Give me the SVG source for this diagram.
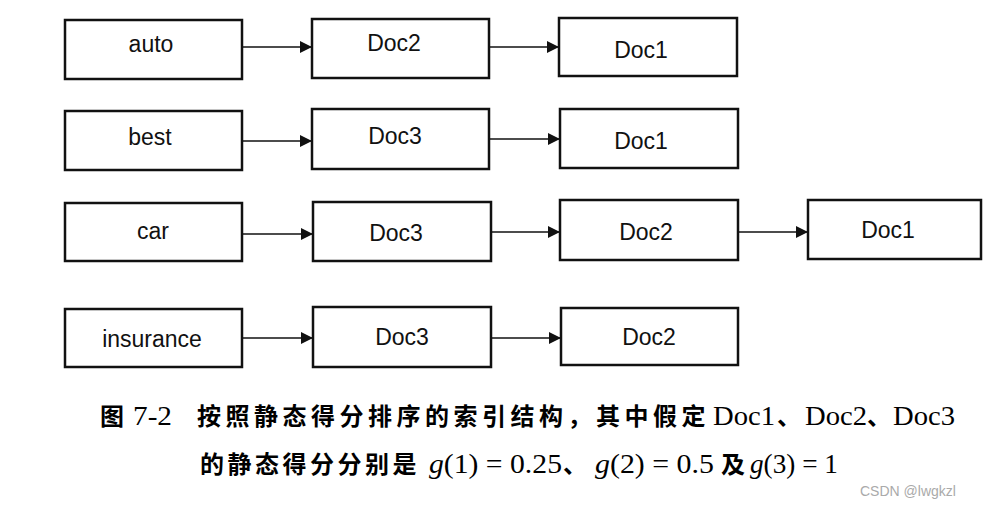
<svg xmlns="http://www.w3.org/2000/svg" width="995" height="510" viewBox="0 0 995 510">
<style>
.box{fill:#fff;stroke:#111;stroke-width:2.5}
.lbl{font-family:"Liberation Sans",Arial,sans-serif;font-size:23px;fill:#111;text-anchor:middle}
.edge{stroke:#111;stroke-width:1.6;fill:none;marker-end:url(#ah)}
.cj{font-family:"Noto Sans CJK SC","Noto Sans CJK JP",sans-serif;font-size:24px;font-weight:bold;fill:#000;letter-spacing:4.5px}
.tm{font-family:"Liberation Serif","Times New Roman",serif;font-size:28px;fill:#000}
.it{font-style:italic}
.wm{font-family:"Liberation Sans",Arial,sans-serif;font-size:14px;fill:#aaa}
</style>
<defs>
<marker id="ah" markerWidth="12" markerHeight="12" refX="12" refY="6" orient="auto" markerUnits="userSpaceOnUse">
<path d="M0,0 L12,6 L0,12 Z" fill="#111"/>
</marker>
</defs>
<rect width="995" height="510" fill="#fff"/>
<g id="connectors">
<line class="edge" x1="242" y1="47" x2="312" y2="47"/>
<line class="edge" x1="489" y1="47" x2="559" y2="47"/>
<line class="edge" x1="242" y1="141" x2="312" y2="141"/>
<line class="edge" x1="489" y1="139" x2="560" y2="139"/>
<line class="edge" x1="242" y1="234" x2="313" y2="234"/>
<line class="edge" x1="491" y1="232" x2="560" y2="232"/>
<line class="edge" x1="738" y1="232" x2="808" y2="232"/>
<line class="edge" x1="242" y1="338" x2="313" y2="338"/>
<line class="edge" x1="491" y1="338" x2="561" y2="338"/>
</g>
<g id="n-auto"><rect class="box" x="65" y="20" width="177" height="59"/><text class="lbl" x="151" y="52">auto</text></g>
<g id="n-auto-doc2"><rect class="box" x="312" y="19" width="177" height="59"/><text class="lbl" x="394" y="51">Doc2</text></g>
<g id="n-auto-doc1"><rect class="box" x="559" y="18" width="178" height="58"/><text class="lbl" x="641" y="58">Doc1</text></g>
<g id="n-best"><rect class="box" x="65" y="111" width="177" height="59"/><text class="lbl" x="150" y="145">best</text></g>
<g id="n-best-doc3"><rect class="box" x="312" y="109" width="177" height="60"/><text class="lbl" x="395" y="144">Doc3</text></g>
<g id="n-best-doc1"><rect class="box" x="560" y="109" width="178" height="59"/><text class="lbl" x="641" y="149">Doc1</text></g>
<g id="n-car"><rect class="box" x="65" y="203" width="177" height="58"/><text class="lbl" x="153" y="239">car</text></g>
<g id="n-car-doc3"><rect class="box" x="313" y="202" width="178" height="59"/><text class="lbl" x="396" y="241">Doc3</text></g>
<g id="n-car-doc2"><rect class="box" x="560" y="200" width="178" height="60"/><text class="lbl" x="646" y="240">Doc2</text></g>
<g id="n-car-doc1"><rect class="box" x="808" y="200" width="173" height="59"/><text class="lbl" x="888" y="238">Doc1</text></g>
<g id="n-insurance"><rect class="box" x="65" y="309" width="177" height="58"/><text class="lbl" x="152" y="347">insurance</text></g>
<g id="n-ins-doc3"><rect class="box" x="313" y="307" width="178" height="60"/><text class="lbl" x="402" y="345">Doc3</text></g>
<g id="n-ins-doc2"><rect class="box" x="561" y="308" width="177" height="57"/><text class="lbl" x="649" y="345">Doc2</text></g>
<g id="caption">
<text class="cj" x="100" y="425">图</text>
<text class="tm" x="133" y="425" textLength="39" lengthAdjust="spacingAndGlyphs">7-2</text>
<text class="cj" x="197" y="425">按照静态得分排序的索引结构，其中假定</text>
<text class="tm" x="713" y="425" textLength="62" lengthAdjust="spacingAndGlyphs">Doc1</text>
<text class="cj" x="777" y="425" style="letter-spacing:0">、</text>
<text class="tm" x="805" y="425" textLength="62" lengthAdjust="spacingAndGlyphs">Doc2</text>
<text class="cj" x="867" y="425" style="letter-spacing:0">、</text>
<text class="tm" x="893" y="425" textLength="62" lengthAdjust="spacingAndGlyphs">Doc3</text>
<text class="cj" x="200" y="473" style="letter-spacing:3.5px">的静态得分分别是</text>
<text class="tm" x="429" y="473" textLength="133" lengthAdjust="spacingAndGlyphs"><tspan class="it">g</tspan>(1) = 0.25</text>
<text class="cj" x="563" y="473" style="letter-spacing:0">、</text>
<text class="tm" x="595" y="473" textLength="119" lengthAdjust="spacingAndGlyphs"><tspan class="it">g</tspan>(2) = 0.5</text>
<text class="cj" x="721" y="473" style="letter-spacing:0">及</text>
<text class="tm" x="750" y="473" textLength="88" lengthAdjust="spacingAndGlyphs"><tspan class="it">g</tspan>(3) = 1</text>
</g>
<text class="wm" x="860" y="496">CSDN @lwgkzl</text>
</svg>
